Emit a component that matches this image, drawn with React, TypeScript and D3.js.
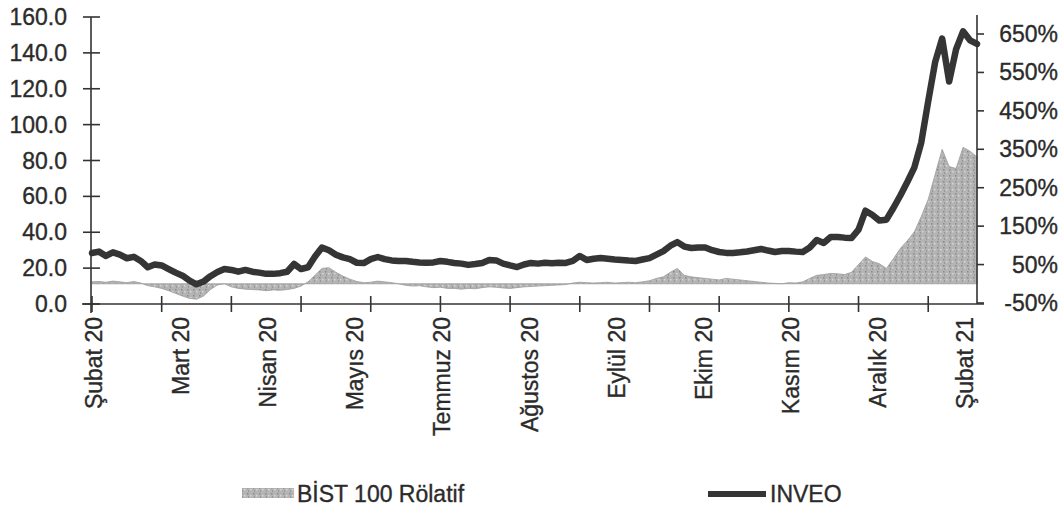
import React from "react";
import * as d3 from "d3";

// trading-day index domain (0..254), data sampled every 2 trading days
const dayCount = 255;
const sampleStep = 2;

const inveo = [
  28.4, 29.2, 26.8, 28.8, 27.5, 25.5, 26.3, 24.0, 20.5, 22.0,
  21.5, 19.5, 17.5, 15.8, 13.0, 11.0, 12.5, 15.5, 17.8, 19.5,
  19.0, 18.0, 19.0, 18.0, 17.5, 16.8, 16.8, 17.2, 18.0, 22.3,
  19.5, 20.5, 26.5, 31.5, 30.0, 27.5, 26.0, 25.0, 23.0, 22.8,
  25.0, 26.2, 25.0, 24.3, 24.0, 24.0, 23.5, 23.2, 23.0, 23.2,
  24.0, 23.5, 22.9, 22.5, 21.8, 22.3, 22.9, 24.5, 24.3, 22.5,
  21.5, 20.6, 22.0, 22.9, 22.5, 23.0, 22.7, 23.0, 22.9, 24.0,
  26.8, 24.5, 25.2, 25.6, 25.2, 24.8, 24.5, 24.2, 24.0, 24.8,
  25.6, 27.5, 29.5, 32.5, 34.5, 32.0, 31.2, 31.5, 31.5, 30.0,
  29.0, 28.5, 28.4, 28.8, 29.3, 30.0, 30.7, 29.8, 29.0, 29.5,
  29.5, 29.2, 29.0, 31.5, 35.7, 34.0, 37.3, 37.3, 37.0, 36.8,
  41.5, 52.0, 49.6, 46.5, 47.0, 53.5, 60.5, 68.0, 76.0, 90.0,
  113.0, 135.0, 148.0, 124.0, 142.0, 152.0, 147.0, 145.0,
];

const bistRelative = [
  5, 6, 4, 7, 5, 3, 6, 2, -5, -8,
  -12, -18, -25, -32, -38, -40, -32, -15, -3, 0,
  -8, -12, -14, -15, -16, -18, -16, -17, -15, -12,
  -6, 5, 22, 40, 42, 30, 20, 12, 6, 3,
  4, 7, 5, 3, 0, -4, -6, -5, -8, -10,
  -9, -12, -12, -14, -12, -13, -10, -8, -9, -11,
  -12, -10, -8, -7, -6, -5, -4, -3, -2, 2,
  4, 3, 2, 3, 4, 2, 3, 4, 3, 5,
  8, 14, 18, 30, 40, 22, 18, 16, 14, 12,
  10, 14, 12, 10, 8, 6, 4, 2, 1, 0,
  3, 2, 5, 14, 22, 24, 27, 26, 24, 30,
  50, 70, 58, 52, 40, 65, 92, 112, 135, 175,
  220, 285, 350, 305, 300, 355, 345, 330,
];

const monthLabels = [
  "Şubat 20", "Mart 20", "Nisan 20", "Mayıs 20", "Temmuz 20", "Ağustos 20",
  "Eylül 20", "Ekim 20", "Kasım 20", "Aralık 20", "Şubat 21",
];
const labelEvery = 25;
const tickEvery = 20;

const leftTicks = [0, 20, 40, 60, 80, 100, 120, 140, 160];
const rightTicks = [-50, 50, 150, 250, 350, 450, 550, 650];

const FONT = "'Liberation Sans', Arial, sans-serif";
const TEXT = "#2b2b2b";

export default function App() {
  const x = d3.scaleLinear().domain([0, dayCount - 1]).range([92, 977]);
  const yL = d3.scaleLinear().domain([0, 160]).range([304, 17]);
  const yR = d3.scaleLinear().domain([-50, 650]).range([303, 34]);

  const line = d3
    .line<number>()
    .x((_, i) => x(i * sampleStep))
    .y((d) => yL(d))
    .curve(d3.curveLinear);

  const area = d3
    .area<number>()
    .x((_, i) => x(i * sampleStep))
    .y0(yR(0))
    .y1((d) => yR(d))
    .curve(d3.curveLinear);

  const xTicks = d3.range(0, dayCount - 1, tickEvery);
  const axisY = yL(0);
  const leftX = 91;
  const rightX = 977;

  const textProps = { fontSize: 23, fill: TEXT, stroke: TEXT, strokeWidth: 0.35 };

  return (
    <svg
      width={1063}
      height={509}
      style={{ position: "absolute", left: 0, top: 0, background: "#fff" }}
      fontFamily={FONT}
    >
      <defs>
        <pattern id="speckle" width="6" height="6" patternUnits="userSpaceOnUse">
          <rect width="6" height="6" fill="#b4b4b4" />
          <rect x="1" y="1" width="1.5" height="1.5" fill="#8a8a8a" />
          <rect x="4" y="3" width="1.5" height="1.5" fill="#d6d6d6" />
          <rect x="2" y="4.5" width="1" height="1" fill="#7d7d7d" />
        </pattern>
      </defs>

      {/* area: BIST 100 relative */}
      <path d={area(bistRelative) || ""} fill="url(#speckle)" stroke="#9a9a9a" strokeWidth={0.8} />

      {/* INVEO line */}
      <path
        d={line(inveo) || ""}
        fill="none"
        stroke="#353535"
        strokeWidth={6.5}
        strokeLinejoin="round"
        strokeLinecap="round"
      />

      {/* left axis */}
      <line x1={leftX} x2={leftX} y1={yL(160)} y2={axisY + 9} stroke="#333" strokeWidth={1.6} />
      {leftTicks.map((t) => (
        <g key={"l" + t}>
          <line x1={leftX - 8} x2={leftX + 9} y1={yL(t)} y2={yL(t)} stroke="#333" strokeWidth={1.6} />
          <text x={67} y={yL(t)} textAnchor="end" dominantBaseline="central" {...textProps}>
            {d3.format(".1f")(t)}
          </text>
        </g>
      ))}

      {/* right axis */}
      <line x1={rightX} x2={rightX} y1={15} y2={axisY} stroke="#333" strokeWidth={1.6} />
      {rightTicks.map((t) => (
        <g key={"r" + t}>
          <line x1={rightX} x2={rightX + 7} y1={yR(t)} y2={yR(t)} stroke="#333" strokeWidth={1.6} />
          <text x={1058} y={yR(t)} textAnchor="end" dominantBaseline="central" {...textProps}>
            {t + "%"}
          </text>
        </g>
      ))}

      {/* x axis */}
      <line x1={82} x2={984} y1={axisY} y2={axisY} stroke="#333" strokeWidth={1.6} />
      {xTicks.map((t) => (
        <line key={"t" + t} x1={x(t)} x2={x(t)} y1={axisY - 8} y2={axisY + 8} stroke="#333" strokeWidth={1.6} />
      ))}
      {monthLabels.map((m, i) => (
        <text
          key={m}
          transform={`translate(${x(i * labelEvery) + 2}, 317) rotate(-90)`}
          textAnchor="end"
          dominantBaseline="central"
          {...textProps}
        >
          {m}
        </text>
      ))}

      {/* legend */}
      <rect x={242} y={488} width={52} height={10} fill="url(#speckle)" />
      <text x={297} y={494} dominantBaseline="central" {...textProps}>
        BİST 100 Rölatif
      </text>
      <line x1={708} x2={766} y1={494} y2={494} stroke="#353535" strokeWidth={6} />
      <text x={770} y={494} dominantBaseline="central" {...textProps}>
        INVEO
      </text>
    </svg>
  );
}
